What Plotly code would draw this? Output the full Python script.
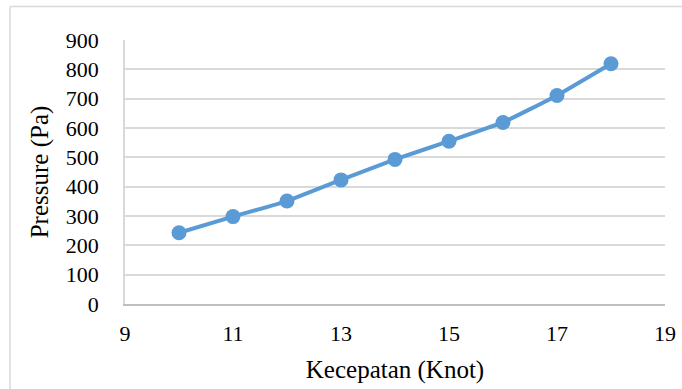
import plotly.graph_objects as go

# Data
speed_knot = [10, 11, 12, 13, 14, 15, 16, 17, 18]
pressure_pa = [243, 298, 351, 423, 493, 555, 619, 711, 819]
x_tick_vals = [9, 11, 13, 15, 17, 19]
y_tick_vals = [0, 100, 200, 300, 400, 500, 600, 700, 800, 900]

FONT = "Liberation Serif"

fig = go.Figure()
fig.add_trace(go.Scatter(
    x=speed_knot, y=pressure_pa, mode="lines+markers",
    line=dict(color="#5b9bd5", width=4, shape="spline", smoothing=0.3),
    marker=dict(color="#5b9bd5", size=15),
    showlegend=False,
))

L, R, T, B = 125, 17, 40, 85
W, H = 682, 389
pw, ph = W - L - R, H - T - B

def px_x(p):
    return (p - L) / pw

def px_y(p):
    return (H - B - p) / ph

# outer chart border (top and left visible)
fig.add_shape(type="line", xref="paper", yref="paper",
              x0=px_x(10), x1=px_x(700), y0=px_y(6.5), y1=px_y(6.5),
              line=dict(color="#d9d9d9", width=1.5))
fig.add_shape(type="line", xref="paper", yref="paper",
              x0=px_x(10), x1=px_x(10), y0=px_y(6.5), y1=px_y(400),
              line=dict(color="#d9d9d9", width=1.5))

fig.update_layout(
    width=W, height=H,
    margin=dict(l=L, r=R, t=T, b=B, autoexpand=False),
    paper_bgcolor="white", plot_bgcolor="white",
    font=dict(family=FONT, color="black", size=22),
    xaxis=dict(
        range=[9, 19], tickvals=x_tick_vals, ticktext=[str(v) for v in x_tick_vals],
        showgrid=False, zeroline=False,
        showline=True, linecolor="#bfbfbf", linewidth=2,
        ticks="outside", ticklen=9, tickcolor="rgba(0,0,0,0)",
        tickfont=dict(family=FONT, size=22, color="black"),
        title=dict(text="Kecepatan (Knot)", font=dict(family=FONT, size=25, color="black"), standoff=15),
        automargin=False,
    ),
    yaxis=dict(
        range=[0, 900], tickvals=y_tick_vals, ticktext=[str(v) for v in y_tick_vals],
        showgrid=True, gridcolor="#d9d9d9", gridwidth=2,
        zeroline=False,
        showline=True, linecolor="#d9d9d9", linewidth=1.5,
        ticks="outside", ticklen=20, tickcolor="rgba(0,0,0,0)",
        tickfont=dict(family=FONT, size=22, color="black"),
        title=dict(text="Pressure (Pa)", font=dict(family=FONT, size=25, color="black"), standoff=10),
        automargin=False,
    ),
)

fig.write_html("out.html")
